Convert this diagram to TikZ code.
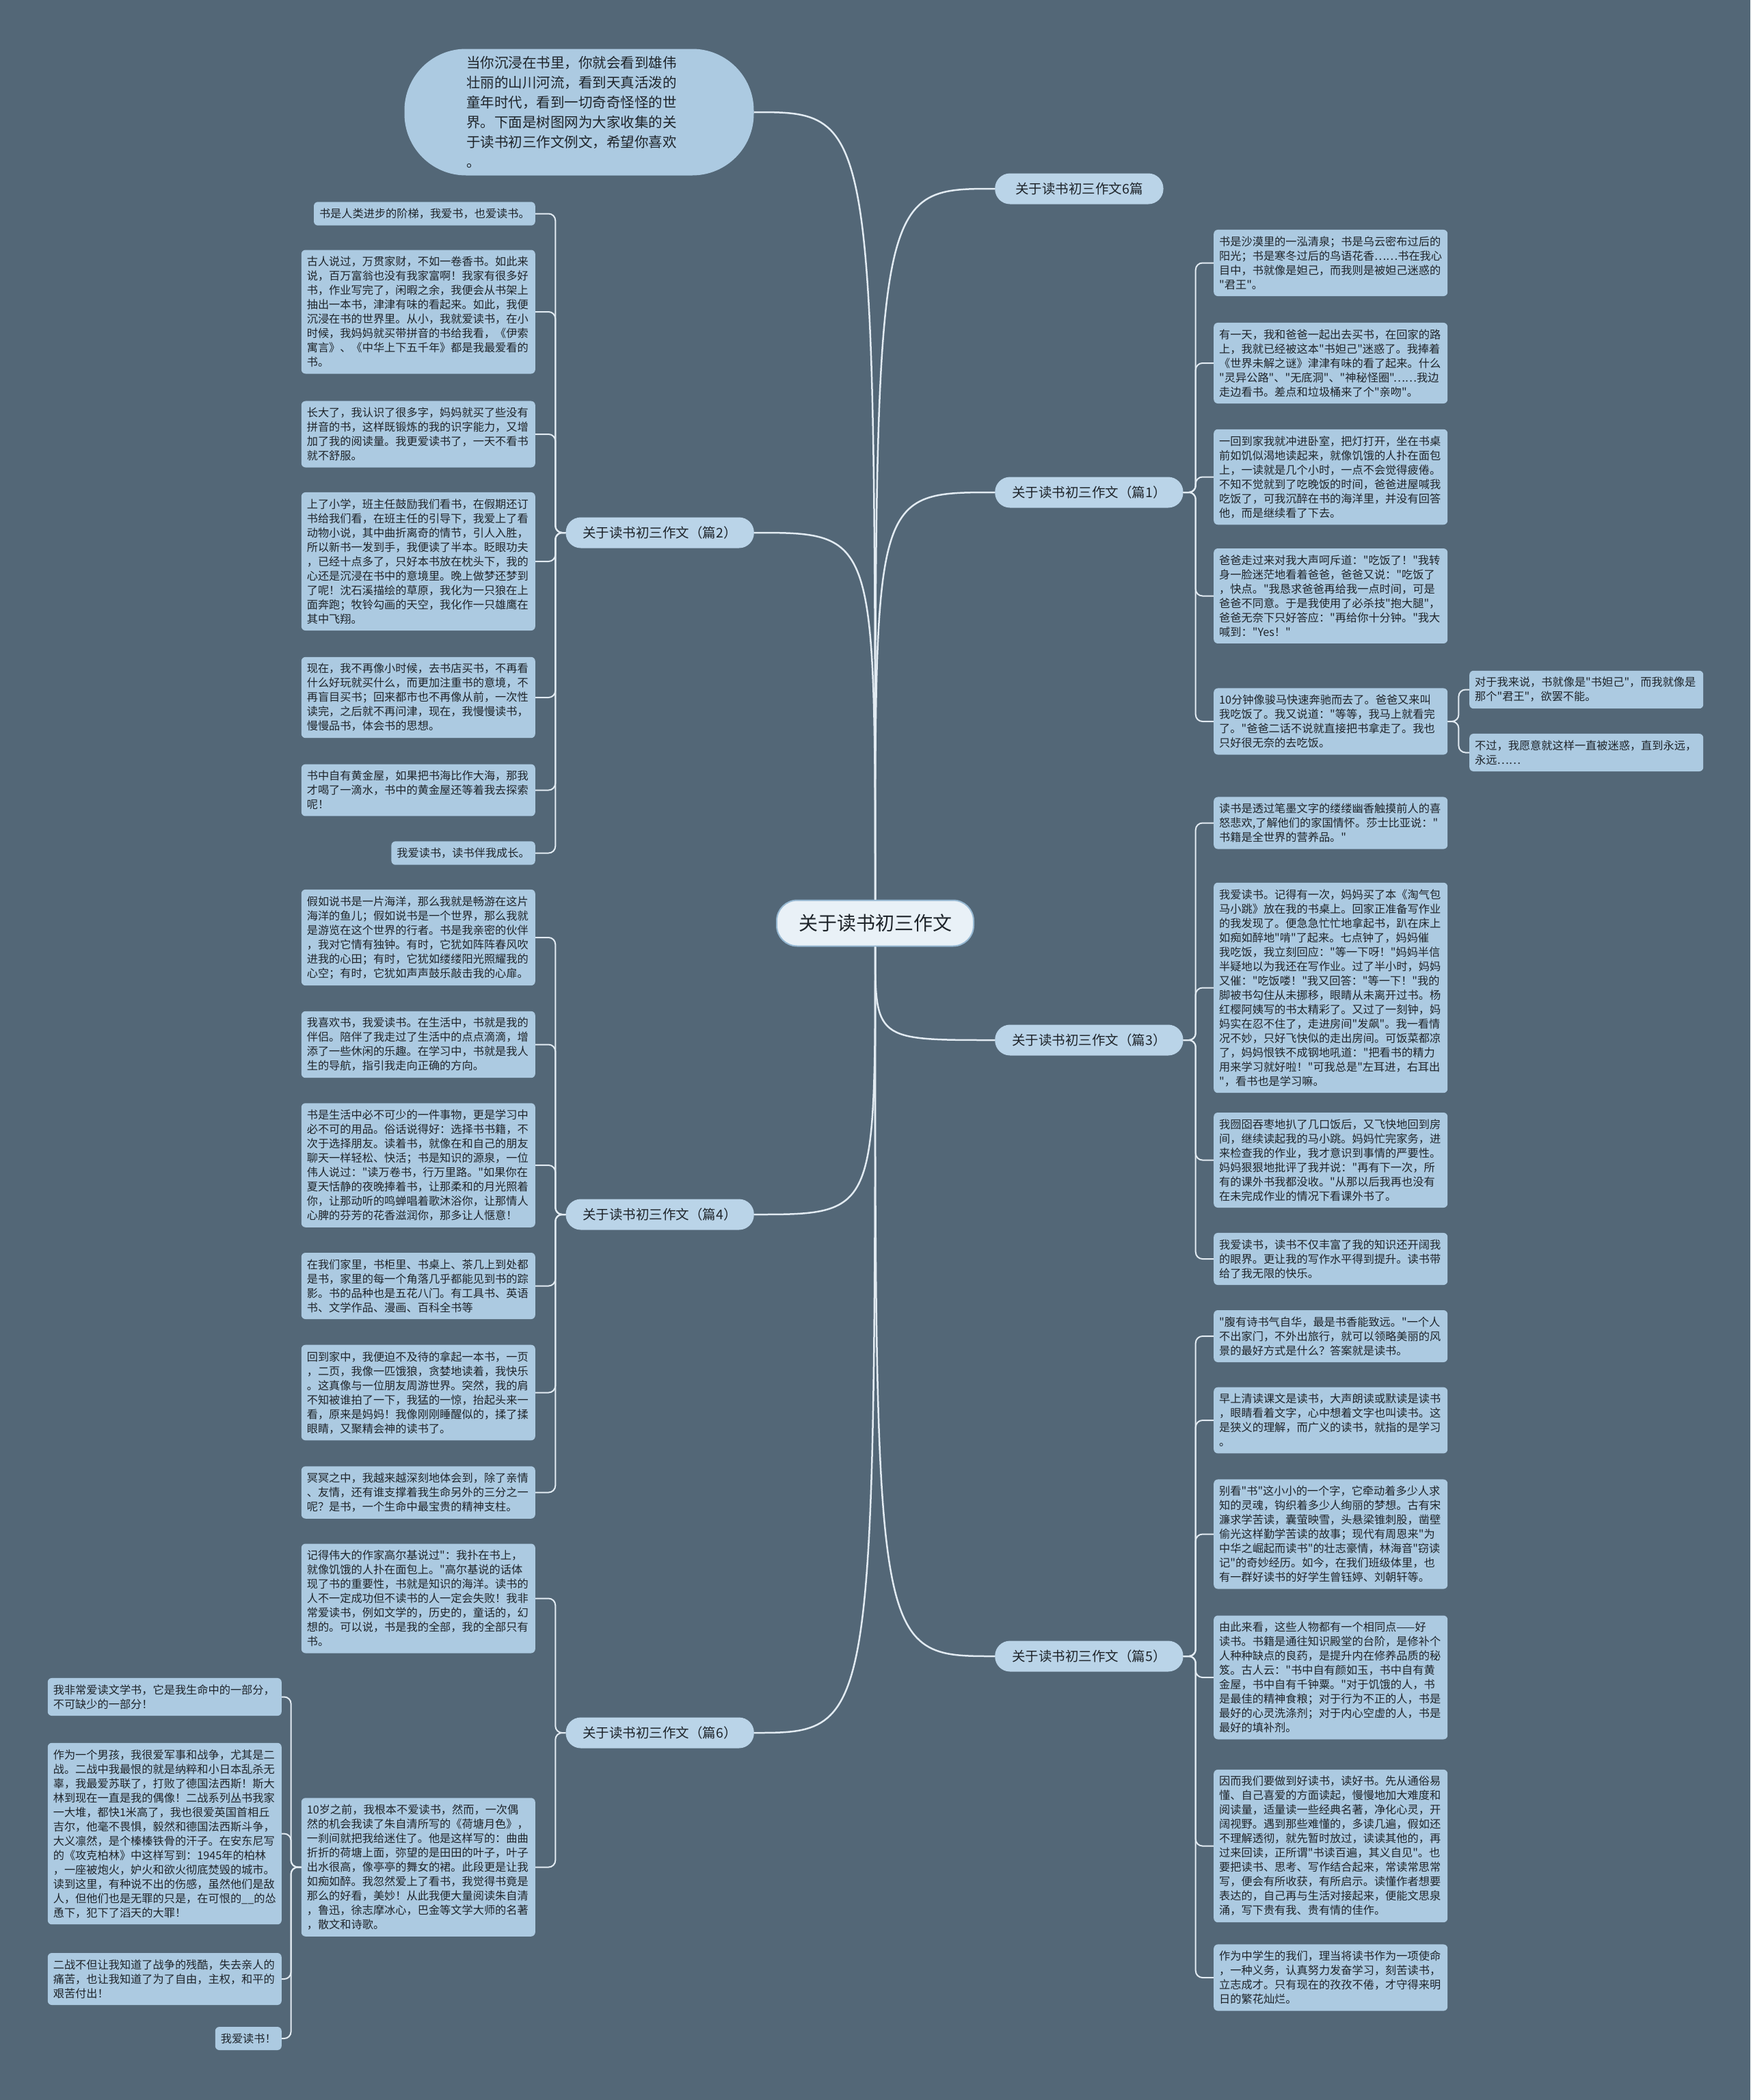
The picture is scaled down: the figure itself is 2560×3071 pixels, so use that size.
\documentclass[tikz,border=0pt]{standalone}
\usepackage{fontspec}
\setmainfont{Noto Sans CJK SC}[Ligatures=TeXOff]
\usetikzlibrary{calc}
\definecolor{PageBg}    {RGB}{83,103,119}
\definecolor{LeafFill}  {RGB}{172,202,225}
\definecolor{BranchFill}{RGB}{186,212,232}
\definecolor{RootFill}  {RGB}{233,241,247}
\definecolor{RootLine}  {RGB}{150,184,210}
\definecolor{LinkCol}   {RGB}{226,235,242}
\definecolor{InkCol}    {RGB}{30,36,42}
\tikzset{
  nd_root/.style={rectangle,rounded corners=30pt,fill=RootFill,draw=RootLine,line width=2pt,text=InkCol,minimum width=288pt,minimum height=67pt,font=\fontsize{28pt}{34pt}\selectfont},
  nd_intro/.style={rectangle,rounded corners=90pt,fill=LeafFill,text=InkCol,minimum width=511pt,minimum height=185pt,text width=330pt,align=left,font=\fontsize{20.5pt}{29pt}\selectfont},
  nd_branch/.style={rectangle,rounded corners=22pt,fill=BranchFill,text=InkCol,minimum height=45pt,inner xsep=25pt,font=\fontsize{19.5pt}{24pt}\selectfont},
  nd_leaf/.style={rectangle,rounded corners=6pt,fill=LeafFill,text=InkCol,text width=326pt,align=left,inner xsep=8pt,inner ysep=9.5pt,font=\fontsize{16.2pt}{21pt}\selectfont},
  nd_tip/.style={rectangle,rounded corners=6pt,fill=LeafFill,text=InkCol,inner xsep=8pt,inner ysep=9.5pt,font=\fontsize{16.2pt}{21pt}\selectfont},
  trunk/.style={draw=LinkCol,line width=2.5pt},
  twig/.style={draw=LinkCol,line width=2pt,rounded corners=10pt},
}
\begin{document}
\begin{tikzpicture}[x=1pt,y=1pt]

\useasboundingbox (0,0) rectangle (2560,-3071);
\fill[PageBg] (0,0) rectangle (2560,-3071);

% root and intro
\node[nd_root] at (1280,-1350) (ctr){关于读书初三作文};
\node[nd_intro] at (847,-164) (intro){当你沉浸在书里，你就会看到雄伟\\
壮丽的山川河流，看到天真活泼的\\
童年时代，看到一切奇奇怪怪的世\\
界。下面是树图网为大家收集的关\\
于读书初三作文例文，希望你喜欢\\
。};

% branches
\node[nd_branch,anchor=west,inner xsep=30pt] at (1455,-276) (bAll){关于读书初三作文6篇};
\node[nd_branch,anchor=west] at (1455,-720)  (b1){关于读书初三作文（篇1）};
\node[nd_branch,anchor=east] at (1103,-779)  (b2){关于读书初三作文（篇2）};
\node[nd_branch,anchor=west] at (1455,-1521) (b3){关于读书初三作文（篇3）};
\node[nd_branch,anchor=east] at (1103,-1776) (b4){关于读书初三作文（篇4）};
\node[nd_branch,anchor=west] at (1455,-2422) (b5){关于读书初三作文（篇5）};
\node[nd_branch,anchor=east] at (1103,-2534) (b6){关于读书初三作文（篇6）};

% LEFT: 篇2
\node[nd_tip,anchor=east]  at (783,-312.5) (L2a){书是人类进步的阶梯，我爱书，也爱读书。};
\node[nd_leaf,anchor=east] at (783,-456)   (L2b){古人说过，万贯家财，不如一卷香书。如此来\\
说，百万富翁也没有我家富啊！我家有很多好\\
书，作业写完了，闲暇之余，我便会从书架上\\
抽出一本书，津津有味的看起来。如此，我便\\
沉浸在书的世界里。从小，我就爱读书，在小\\
时候，我妈妈就买带拼音的书给我看，《伊索\\
寓言》、《中华上下五千年》都是我最爱看的\\
书。};
\node[nd_leaf,anchor=east] at (783,-635)   (L2c){长大了，我认识了很多字，妈妈就买了些没有\\
拼音的书，这样既锻炼的我的识字能力，又增\\
加了我的阅读量。我更爱读书了，一天不看书\\
就不舒服。};
\node[nd_leaf,anchor=east] at (783,-821)   (L2d){上了小学，班主任鼓励我们看书，在假期还订\\
书给我们看，在班主任的引导下，我爱上了看\\
动物小说，其中曲折离奇的情节，引人入胜，\\
所以新书一发到手，我便读了半本。眨眼功夫\\
，已经十点多了，只好本书放在枕头下，我的\\
心还是沉浸在书中的意境里。晚上做梦还梦到\\
了呢！沈石溪描绘的草原，我化为一只狼在上\\
面奔跑；牧铃勾画的天空，我化作一只雄鹰在\\
其中飞翔。};
\node[nd_leaf,anchor=east] at (783,-1020)  (L2e){现在，我不再像小时候，去书店买书，不再看\\
什么好玩就买什么，而更加注重书的意境，不\\
再盲目买书；回来都市也不再像从前，一次性\\
读完，之后就不再问津，现在，我慢慢读书，\\
慢慢品书，体会书的思想。};
\node[nd_leaf,anchor=east] at (783,-1155.5) (L2f){书中自有黄金屋，如果把书海比作大海，那我\\
才喝了一滴水，书中的黄金屋还等着我去探索\\
呢！};
\node[nd_tip,anchor=east]  at (783,-1247.5) (L2g){我爱读书，读书伴我成长。};

% LEFT: 篇4
\node[nd_leaf,anchor=east] at (783,-1371)  (L4a){假如说书是一片海洋，那么我就是畅游在这片\\
海洋的鱼儿；假如说书是一个世界，那么我就\\
是游览在这个世界的行者。书是我亲密的伙伴\\
，我对它情有独钟。有时，它犹如阵阵春风吹\\
进我的心田；有时，它犹如缕缕阳光照耀我的\\
心空；有时，它犹如声声鼓乐敲击我的心扉。};
\node[nd_leaf,anchor=east] at (783,-1527.5) (L4b){我喜欢书，我爱读书。在生活中，书就是我的\\
伴侣。陪伴了我走过了生活中的点点滴滴，增\\
添了一些休闲的乐趣。在学习中，书就是我人\\
生的导航，指引我走向正确的方向。};
\node[nd_leaf,anchor=east] at (783,-1704)  (L4c){书是生活中必不可少的一件事物，更是学习中\\
必不可的用品。俗话说得好：选择书书籍，不\\
次于选择朋友。读着书，就像在和自己的朋友\\
聊天一样轻松、快活；书是知识的源泉，一位\\
伟人说过："读万卷书，行万里路。"如果你在\\
夏天恬静的夜晚捧着书，让那柔和的月光照着\\
你，让那动听的鸣蝉唱着歌沐浴你，让那情人\\
心脾的芬芳的花香滋润你，那多让人惬意！};
\node[nd_leaf,anchor=east] at (783,-1880.5) (L4d){在我们家里，书柜里、书桌上、茶几上到处都\\
是书，家里的每一个角落几乎都能见到书的踪\\
影。书的品种也是五花八门。有工具书、英语\\
书、文学作品、漫画、百科全书等};
\node[nd_leaf,anchor=east] at (783,-2036.5) (L4e){回到家中，我便迫不及待的拿起一本书，一页\\
，二页，我像一匹饿狼，贪婪地读着，我快乐\\
。这真像与一位朋友周游世界。突然，我的肩\\
不知被谁拍了一下，我猛的一惊，抬起头来一\\
看，原来是妈妈！我像刚刚睡醒似的，揉了揉\\
眼睛，又聚精会神的读书了。};
\node[nd_leaf,anchor=east] at (783,-2182.5) (L4f){冥冥之中，我越来越深刻地体会到，除了亲情\\
、友情，还有谁支撑着我生命另外的三分之一\\
呢？是书，一个生命中最宝贵的精神支柱。};

% LEFT: 篇6
\node[nd_leaf,anchor=east] at (783,-2337.5) (L6a){记得伟大的作家高尔基说过"：我扑在书上，\\
就像饥饿的人扑在面包上。"高尔基说的话体\\
现了书的重要性，书就是知识的海洋。读书的\\
人不一定成功但不读书的人一定会失败！我非\\
常爱读书，例如文学的，历史的，童话的，幻\\
想的。可以说，书是我的全部，我的全部只有\\
书。};
\node[nd_leaf,anchor=east] at (783,-2730.5) (L6b){10岁之前，我根本不爱读书，然而，一次偶\\
然的机会我读了朱自清所写的《荷塘月色》，\\
一刹间就把我给迷住了。他是这样写的：曲曲\\
折折的荷塘上面，弥望的是田田的叶子，叶子\\
出水很高，像亭亭的舞女的裙。此段更是让我\\
如痴如醉。我忽然爱上了看书，我觉得书竟是\\
那么的好看，美妙！从此我便大量阅读朱自清\\
，鲁迅，徐志摩冰心，巴金等文学大师的名著\\
，散文和诗歌。};
\node[nd_leaf,anchor=east] at (412,-2481.5) (F1){我非常爱读文学书，它是我生命中的一部分，\\
不可缺少的一部分！};
\node[nd_leaf,anchor=east] at (412,-2681.5) (F2){作为一个男孩，我很爱军事和战争，尤其是二\\
战。二战中我最恨的就是纳粹和小日本乱杀无\\
辜，我最爱苏联了，打败了德国法西斯！斯大\\
林到现在一直是我的偶像！二战系列丛书我家\\
一大堆，都快1米高了，我也很爱英国首相丘\\
吉尔，他毫不畏惧，毅然和德国法西斯斗争，\\
大义凛然，是个榛榛铁骨的汗子。在安东尼写\\
的《攻克柏林》中这样写到：1945年的柏林\\
，一座被炮火，妒火和欲火彻底焚毁的城市。\\
读到这里，有种说不出的伤感，虽然他们是敌\\
人，但他们也是无罪的只是，在可恨的\_\_的怂\\
恿下，犯下了滔天的大罪！};
\node[nd_leaf,anchor=east] at (412,-2894)  (F3){二战不但让我知道了战争的残酷，失去亲人的\\
痛苦，也让我知道了为了自由，主权，和平的\\
艰苦付出！};
\node[nd_tip,anchor=east]  at (412,-2981)  (F4){我爱读书！};

% RIGHT: 篇1
\node[nd_leaf,anchor=west] at (1775,-384.5) (R1a){书是沙漠里的一泓清泉；书是乌云密布过后的\\
阳光；书是寒冬过后的鸟语花香……书在我心\\
目中，书就像是妲己，而我则是被妲己迷惑的\\
"君王"。};
\node[nd_leaf,anchor=west] at (1775,-531)  (R1b){有一天，我和爸爸一起出去买书，在回家的路\\
上，我就已经被这本"书妲己"迷惑了。我捧着\\
《世界未解之谜》津津有味的看了起来。什么\\
"灵异公路"、"无底洞"、"神秘怪圈"……我边\\
走边看书。差点和垃圾桶来了个"亲吻"。};
\node[nd_leaf,anchor=west] at (1775,-697.5) (R1c){一回到家我就冲进卧室，把灯打开，坐在书桌\\
前如饥似渴地读起来，就像饥饿的人扑在面包\\
上，一读就是几个小时，一点不会觉得疲倦。\\
不知不觉就到了吃晚饭的时间，爸爸进屋喊我\\
吃饭了，可我沉醉在书的海洋里，并没有回答\\
他，而是继续看了下去。};
\node[nd_leaf,anchor=west] at (1775,-871.5) (R1d){爸爸走过来对我大声呵斥道："吃饭了！"我转\\
身一脸迷茫地看着爸爸，爸爸又说："吃饭了\\
，快点。"我恳求爸爸再给我一点时间，可是\\
爸爸不同意。于是我使用了必杀技"抱大腿"，\\
爸爸无奈下只好答应："再给你十分钟。"我大\\
喊到："Yes！"};
\node[nd_leaf,anchor=west] at (1775,-1055) (R1e){10分钟像骏马快速奔驰而去了。爸爸又来叫\\
我吃饭了。我又说道："等等，我马上就看完\\
了。"爸爸二话不说就直接把书拿走了。我也\\
只好很无奈的去吃饭。};
\node[nd_leaf,anchor=west] at (2149,-1008.5) (G1){对于我来说，书就像是"书妲己"，而我就像是\\
那个"君王"，欲罢不能。};
\node[nd_leaf,anchor=west] at (2149,-1100.5) (G2){不过，我愿意就这样一直被迷惑，直到永远，\\
永远……};

% RIGHT: 篇3
\node[nd_leaf,anchor=west] at (1775,-1203.5) (R3a){读书是透过笔墨文字的缕缕幽香触摸前人的喜\\
怒悲欢,了解他们的家国情怀。莎士比亚说："\\
书籍是全世界的营养品。"};
\node[nd_leaf,anchor=west] at (1775,-1444.5) (R3b){我爱读书。记得有一次，妈妈买了本《淘气包\\
马小跳》放在我的书桌上。回家正准备写作业\\
的我发现了。便急急忙忙地拿起书，趴在床上\\
如痴如醉地"啃"了起来。七点钟了，妈妈催\\
我吃饭，我立刻回应："等一下呀！"妈妈半信\\
半疑地以为我还在写作业。过了半小时，妈妈\\
又催："吃饭喽！"我又回答："等一下！"我的\\
脚被书勾住从未挪移，眼睛从未离开过书。杨\\
红樱阿姨写的书太精彩了。又过了一刻钟，妈\\
妈实在忍不住了，走进房间"发飙"。我一看情\\
况不妙，只好飞快似的走出房间。可饭菜都凉\\
了，妈妈恨铁不成钢地吼道："把看书的精力\\
用来学习就好啦！"可我总是"左耳进，右耳出\\
"，看书也是学习嘛。};
\node[nd_leaf,anchor=west] at (1775,-1696.5) (R3c){我囫囵吞枣地扒了几口饭后，又飞快地回到房\\
间，继续读起我的马小跳。妈妈忙完家务，进\\
来检查我的作业，我才意识到事情的严要性。\\
妈妈狠狠地批评了我并说："再有下一次，所\\
有的课外书我都没收。"从那以后我再也没有\\
在未完成作业的情况下看课外书了。};
\node[nd_leaf,anchor=west] at (1775,-1841) (R3d){我爱读书，读书不仅丰富了我的知识还开阔我\\
的眼界。更让我的写作水平得到提升。读书带\\
给了我无限的快乐。};

% RIGHT: 篇5
\node[nd_leaf,anchor=west] at (1775,-1954) (R5a){"腹有诗书气自华，最是书香能致远。"一个人\\
不出家门，不外出旅行，就可以领略美丽的风\\
景的最好方式是什么？答案就是读书。};
\node[nd_leaf,anchor=west] at (1775,-2077) (R5b){早上清读课文是读书，大声朗读或默读是读书\\
，眼睛看着文字，心中想着文字也叫读书。这\\
是狭义的理解，而广义的读书，就指的是学习\\
。};
\node[nd_leaf,anchor=west] at (1775,-2243.5) (R5c){别看"书"这小小的一个字，它牵动着多少人求\\
知的灵魂，钩织着多少人绚丽的梦想。古有宋\\
濂求学苦读，囊萤映雪，头悬梁锥刺股，凿壁\\
偷光这样勤学苦读的故事；现代有周恩来"为\\
中华之崛起而读书"的壮志豪情，林海音"窃读\\
记"的奇妙经历。如今，在我们班级体里，也\\
有一群好读书的好学生曾钰婷、刘朝轩等。};
\node[nd_leaf,anchor=west] at (1775,-2453) (R5d){由此来看，这些人物都有一个相同点——好\\
读书。书籍是通往知识殿堂的台阶，是修补个\\
人种种缺点的良药，是提升内在修养品质的秘\\
笈。古人云："书中自有颜如玉，书中自有黄\\
金屋，书中自有千钟粟。"对于饥饿的人，书\\
是最佳的精神食粮；对于行为不正的人，书是\\
最好的心灵洗涤剂；对于内心空虚的人，书是\\
最好的填补剂。};
\node[nd_leaf,anchor=west] at (1775,-2699.5) (R5e){因而我们要做到好读书，读好书。先从通俗易\\
懂、自己喜爱的方面读起，慢慢地加大难度和\\
阅读量，适量读一些经典名著，净化心灵，开\\
阔视野。遇到那些难懂的，多读几遍，假如还\\
不理解透彻，就先暂时放过，读读其他的，再\\
过来回读，正所谓"书读百遍，其义自见"。也\\
要把读书、思考、写作结合起来，常读常思常\\
写，便会有所收获，有所启示。读懂作者想要\\
表达的，自己再与生活对接起来，便能文思泉\\
涌，写下贵有我、贵有情的佳作。};
\node[nd_leaf,anchor=west] at (1775,-2892) (R5f){作为中学生的我们，理当将读书作为一项使命\\
，一种义务，认真努力发奋学习，刻苦读书，\\
立志成才。只有现在的孜孜不倦，才守得来明\\
日的繁花灿烂。};

% root links
\draw[trunk](ctr.north) .. controls (ctr.north |- intro.east) .. (intro.east);
\draw[trunk](ctr.north) .. controls (ctr.north |- bAll.west) .. (bAll.west);
\draw[trunk](ctr.north) .. controls (ctr.north |- b1.west) .. (b1.west);
\draw[trunk](ctr.north) .. controls (ctr.north |- b2.east) .. (b2.east);
\draw[trunk](ctr.south) .. controls (ctr.south |- b3.west) .. (b3.west);
\draw[trunk](ctr.south) .. controls (ctr.south |- b4.east) .. (b4.east);
\draw[trunk](ctr.south) .. controls (ctr.south |- b5.west) .. (b5.west);
\draw[trunk](ctr.south) .. controls (ctr.south |- b6.east) .. (b6.east);

% branch links, left
\draw[twig](b2.west)--++(-15,0)|-(L2a.east);
\draw[twig](b2.west)--++(-15,0)|-(L2b.east);
\draw[twig](b2.west)--++(-15,0)|-(L2c.east);
\draw[twig](b2.west)--++(-15,0)|-(L2d.east);
\draw[twig](b2.west)--++(-15,0)|-(L2e.east);
\draw[twig](b2.west)--++(-15,0)|-(L2f.east);
\draw[twig](b2.west)--++(-15,0)|-(L2g.east);
\draw[twig](b4.west)--++(-15,0)|-(L4a.east);
\draw[twig](b4.west)--++(-15,0)|-(L4b.east);
\draw[twig](b4.west)--++(-15,0)|-(L4c.east);
\draw[twig](b4.west)--++(-15,0)|-(L4d.east);
\draw[twig](b4.west)--++(-15,0)|-(L4e.east);
\draw[twig](b4.west)--++(-15,0)|-(L4f.east);
\draw[twig](b6.west)--++(-15,0)|-(L6a.east);
\draw[twig](b6.west)--++(-15,0)|-(L6b.east);
\draw[twig](L6b.west)--++(-15,0)|-(F1.east);
\draw[twig](L6b.west)--++(-15,0)|-(F2.east);
\draw[twig](L6b.west)--++(-15,0)|-(F3.east);
\draw[twig](L6b.west)--++(-15,0)|-(F4.east);

% branch links, right
\draw[twig](b1.east)--++(18,0)|-(R1a.west);
\draw[twig](b1.east)--++(18,0)|-(R1b.west);
\draw[twig](b1.east)--++(18,0)|-(R1c.west);
\draw[twig](b1.east)--++(18,0)|-(R1d.west);
\draw[twig](b1.east)--++(18,0)|-(R1e.west);
\draw[twig](R1e.east)--++(16,0)|-(G1.west);
\draw[twig](R1e.east)--++(16,0)|-(G2.west);
\draw[twig](b3.east)--++(18,0)|-(R3a.west);
\draw[twig](b3.east)--++(18,0)|-(R3b.west);
\draw[twig](b3.east)--++(18,0)|-(R3c.west);
\draw[twig](b3.east)--++(18,0)|-(R3d.west);
\draw[twig](b5.east)--++(18,0)|-(R5a.west);
\draw[twig](b5.east)--++(18,0)|-(R5b.west);
\draw[twig](b5.east)--++(18,0)|-(R5c.west);
\draw[twig](b5.east)--++(18,0)|-(R5d.west);
\draw[twig](b5.east)--++(18,0)|-(R5e.west);
\draw[twig](b5.east)--++(18,0)|-(R5f.west);

\end{tikzpicture}
\end{document}
